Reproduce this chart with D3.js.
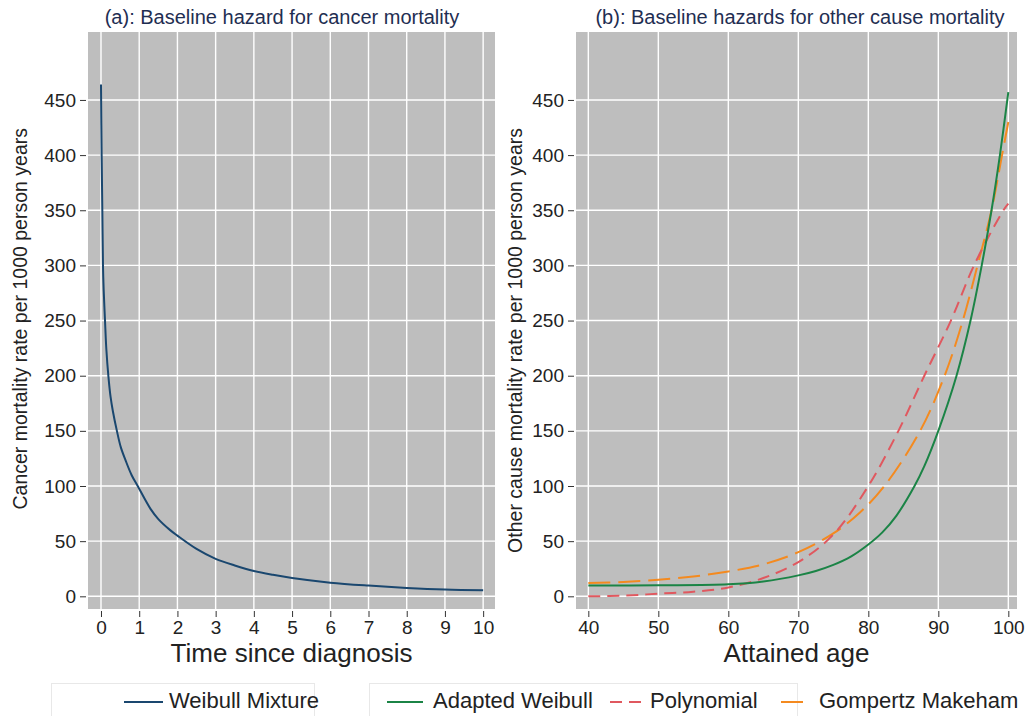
<!DOCTYPE html>
<html>
<head>
<meta charset="utf-8">
<script src="https://cdn.jsdelivr.net/npm/d3@7"></script>
<style>
  body { margin: 0; background: #fff; }
  svg { font-family: "Liberation Sans", Arial, Helvetica, sans-serif; }
</style>
</head>
<body>
<div id="chart"></div>
<script>
// panel (a): Weibull mixture baseline hazard, per 1000 person years
const timeSinceDiagnosis = [0, 0.017, 0.035, 0.052, 0.07, 0.105, 0.14, 0.195, 0.25, 0.31, 0.416, 0.52, 0.646, 0.8, 0.96, 1.3, 1.5, 1.81, 2, 2.5, 3, 3.5, 4, 4.5, 5, 6, 7, 8, 9, 10];
const weibullMixture = [464, 400, 350, 300, 278, 250, 224, 199, 181, 168, 150, 135, 123, 110, 100, 79, 70, 60, 55, 43, 34, 28, 23, 19.5, 16.6, 12.4, 9.7, 7.6, 6.1, 5.4];

// panel (b): other cause mortality
const adaptedWeibullAge = [40, 50, 60, 65, 70, 72.5, 75, 77.5, 80, 82, 84, 86.6, 88, 90, 92.6, 94.6, 96.2, 97.6, 98.8, 100];
const adaptedWeibull = [9.7, 10, 10.9, 13.5, 19, 23, 28.5, 36, 47, 58, 73, 100, 118, 150, 200, 250, 300, 350, 400, 457];

const polynomialAge = [40, 45, 50, 55, 60, 65, 70, 75, 80, 84.3, 88, 91.8, 95.1, 99.3, 100];
const polynomial = [0, 0.6, 2.4, 4.2, 8, 16.6, 31, 56, 100, 150, 200, 250, 300, 350, 356];

const gompertzAge = [40, 45, 50, 55, 60, 65, 70, 75, 78.8, 82.3, 87.4, 90.9, 93.5, 95.6, 97.6, 99.1, 100];
const gompertzMakeham = [12, 13, 15, 18, 22.5, 29, 40, 57, 76, 100, 150, 200, 250, 300, 350, 400, 430];

const yTickValues = d3.range(0, 451, 50);

const width = 1026;
const height = 716;
const textColor = "#222";
const titleColor = "#1f2e52";

const svg = d3.select("#chart").append("svg")
  .attr("width", width)
  .attr("height", height);

const y = d3.scaleLinear().domain([-11.5, 511.6]).range([609, 32]);

const panels = [
  {
    x: d3.scaleLinear().domain([-0.34, 10.31]).range([88, 495]),
    xTicks: d3.range(0, 11),
    title: "(a): Baseline hazard for cancer mortality",
    titleX: 282,
    xTitle: "Time since diagnosis",
    yTitle: "Cancer mortality rate per 1000 person years",
    yTitleX: 27,
    series: [
      { xs: timeSinceDiagnosis, ys: weibullMixture, color: "#1a476f", dash: null },
    ],
  },
  {
    x: d3.scaleLinear().domain([38.24, 101.24]).range([576, 1017]),
    xTicks: d3.range(40, 101, 10),
    title: "(b): Baseline hazards for other cause mortality",
    titleX: 800,
    xTitle: "Attained age",
    yTitle: "Other cause mortality rate per 1000 person years",
    yTitleX: 522,
    series: [
      { xs: gompertzAge, ys: gompertzMakeham, color: "#f48a1f", dash: "22,8" },
      { xs: polynomialAge, ys: polynomial, color: "#e0585f", dash: "12,7" },
      { xs: adaptedWeibullAge, ys: adaptedWeibull, color: "#1b8446", dash: null },
    ],
  },
];

panels.forEach((p) => {
  const [x0, x1] = p.x.range();
  const [y0, y1] = y.range();
  const g = svg.append("g");

  g.append("rect")
    .attr("x", x0).attr("y", y1)
    .attr("width", x1 - x0).attr("height", y0 - y1)
    .attr("fill", "#bebebe");

  g.append("g").selectAll("line")
    .data(p.xTicks)
    .join("line")
    .attr("x1", (d) => p.x(d)).attr("x2", (d) => p.x(d))
    .attr("y1", y1).attr("y2", y0)
    .attr("stroke", "#fff").attr("stroke-width", 1.4);

  g.append("g").selectAll("line")
    .data(yTickValues)
    .join("line")
    .attr("x1", x0).attr("x2", x1)
    .attr("y1", (d) => y(d)).attr("y2", (d) => y(d))
    .attr("stroke", "#fff").attr("stroke-width", 1.4);

  const yAxis = g.append("g")
    .attr("transform", `translate(${x0 - 2},0)`)
    .call(d3.axisLeft(y).tickValues(yTickValues).tickSize(6).tickPadding(4));
  const xAxis = g.append("g")
    .attr("transform", `translate(0,${y0 + 2})`)
    .call(d3.axisBottom(p.x).tickValues(p.xTicks).tickSize(6).tickPadding(4));
  [yAxis, xAxis].forEach((a) => {
    a.select(".domain").remove();
    a.selectAll(".tick line").attr("stroke", "#333");
    a.selectAll("text")
      .attr("fill", textColor)
      .style("font-size", "19px")
      .style("font-family", "inherit");
  });

  // centripetal Catmull-Rom keeps the steep start without overshoot
  const line = d3.line()
    .x((d) => p.x(d[0]))
    .y((d) => y(d[1]))
    .curve(d3.curveCatmullRom.alpha(0.5));

  p.series.forEach((s) => {
    g.append("path")
      .datum(d3.zip(s.xs, s.ys))
      .attr("d", line)
      .attr("fill", "none")
      .attr("stroke", s.color)
      .attr("stroke-width", 2)
      .attr("stroke-dasharray", s.dash);
  });

  g.append("text")
    .attr("x", p.titleX).attr("y", 24)
    .attr("text-anchor", "middle")
    .attr("fill", titleColor)
    .style("font-size", "20px")
    .text(p.title);

  g.append("text")
    .attr("x", (x0 + x1) / 2).attr("y", 662)
    .attr("text-anchor", "middle")
    .attr("fill", textColor)
    .style("font-size", "26px")
    .text(p.xTitle);

  g.append("text")
    .attr("transform", `translate(${p.yTitleX},128) rotate(-90)`)
    .attr("text-anchor", "end")
    .attr("fill", textColor)
    .style("font-size", "19.5px")
    .text(p.yTitle);
});

// legends
const legends = [
  {
    box: [51, 314],
    items: [{ label: "Weibull Mixture", color: "#1a476f", dash: null, x: 124, w: 39, tx: 169 }],
  },
  {
    box: [369, 797],
    items: [
      { label: "Adapted Weibull", color: "#1b8446", dash: null, x: 387, w: 36, tx: 433 },
      { label: "Polynomial", color: "#e0585f", dash: "12,7", x: 610, w: 37, tx: 650 },
      { label: "Gompertz Makeham", color: "#f48a1f", dash: "22,8", x: 781, w: 29, tx: 819 },
    ],
  },
];

legends.forEach((l) => {
  const g = svg.append("g");
  g.append("rect")
    .attr("x", l.box[0] + 0.5).attr("y", 683.5)
    .attr("width", l.box[1] - l.box[0]).attr("height", 60)
    .attr("fill", "#fff")
    .attr("stroke", "#e8e8e8");
  l.items.forEach((it) => {
    g.append("line")
      .attr("x1", it.x).attr("x2", it.x + it.w)
      .attr("y1", 702).attr("y2", 702)
      .attr("stroke", it.color).attr("stroke-width", 2)
      .attr("stroke-dasharray", it.dash);
    g.append("text")
      .attr("x", it.tx).attr("y", 708)
      .attr("fill", textColor)
      .style("font-size", "22px")
      .text(it.label);
  });
});
</script>
</body>
</html>
